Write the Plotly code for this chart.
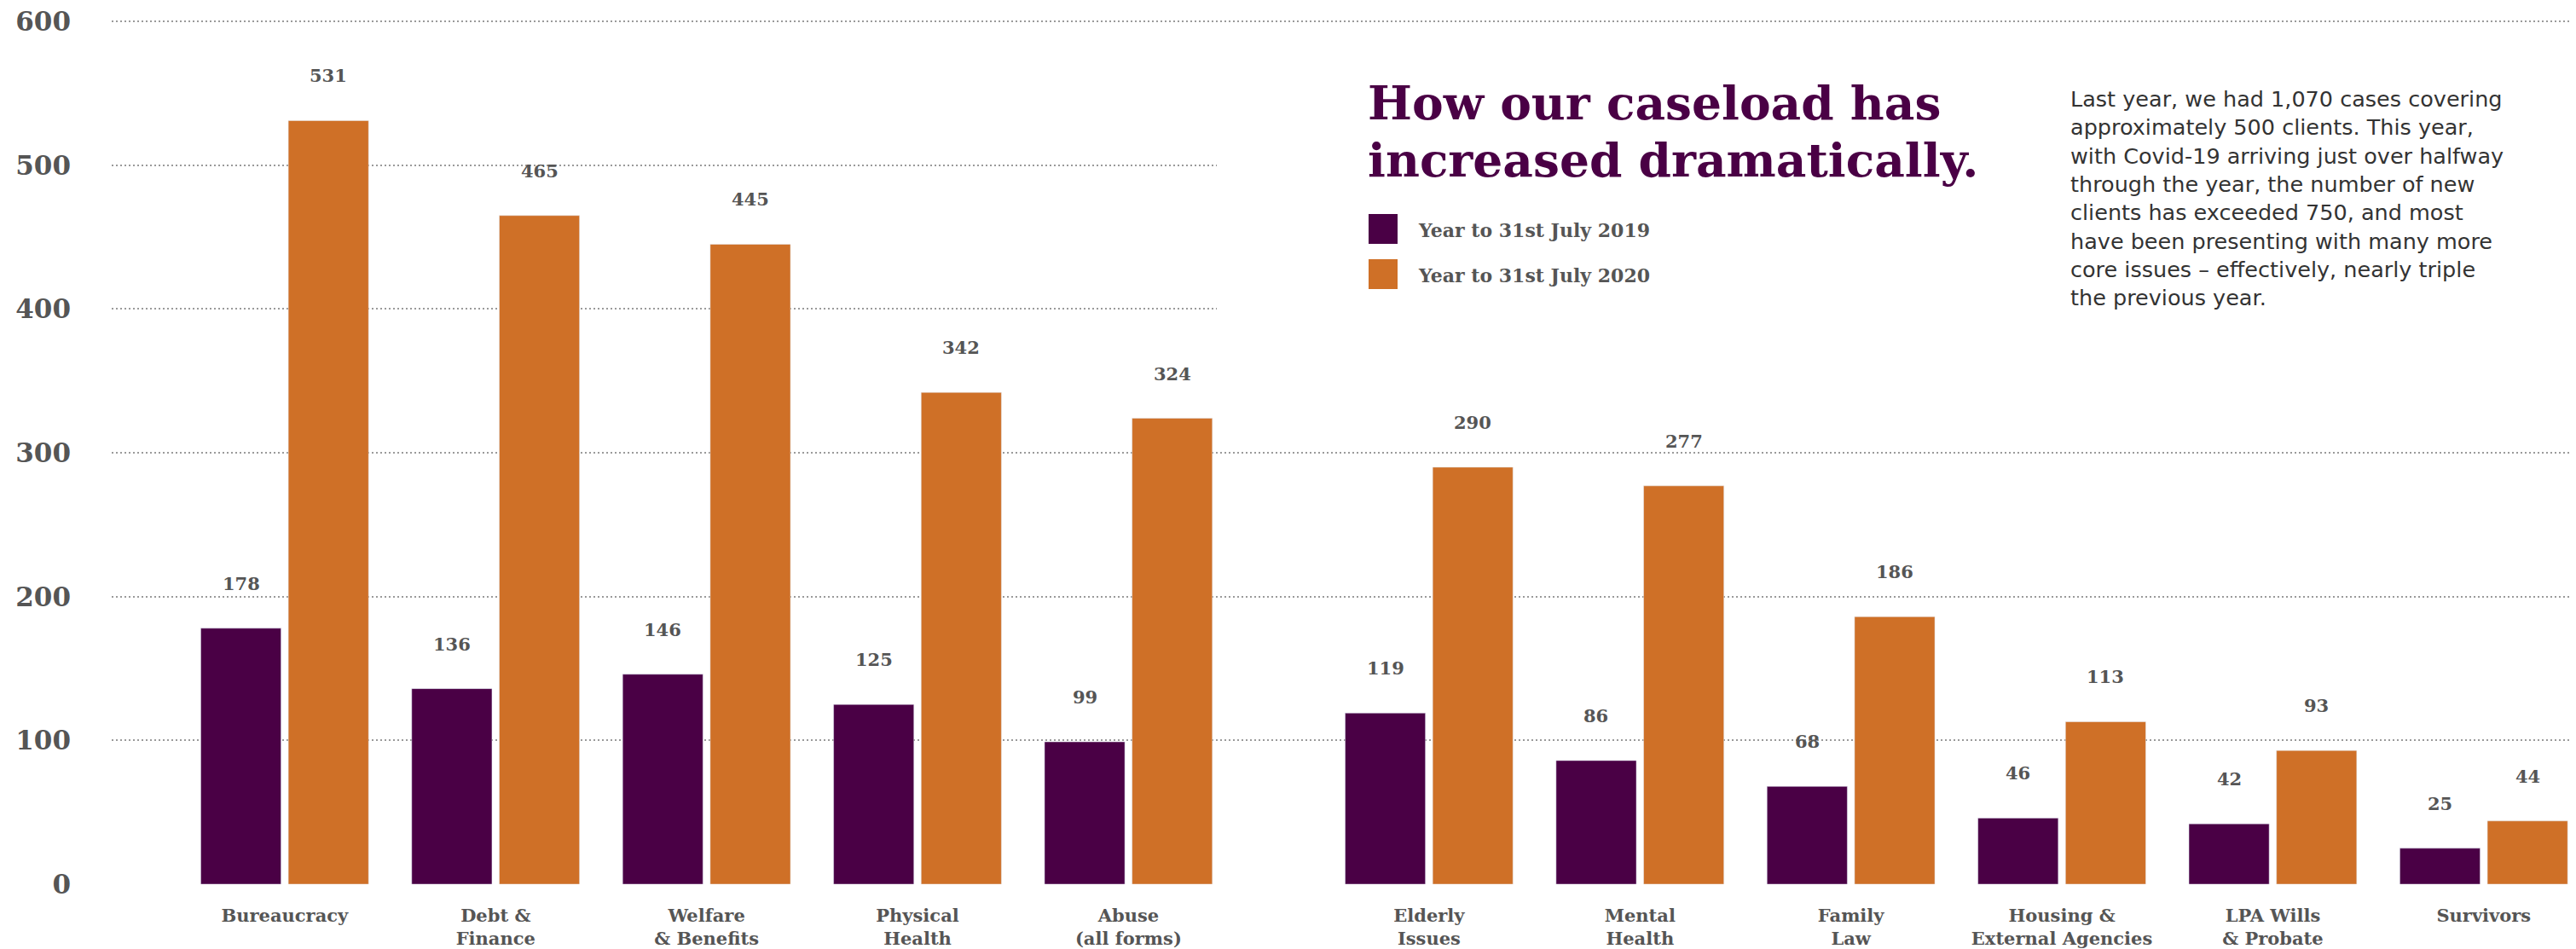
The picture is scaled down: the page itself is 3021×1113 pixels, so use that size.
import plotly.graph_objects as go

# ---------------- data ----------------
categories = [
    "Bureaucracy", "Debt &<br>Finance", "Welfare<br>& Benefits", "Physical<br>Health",
    "Abuse<br>(all forms)", "Elderly<br>Issues", "Mental<br>Health", "Family<br>Law",
    "Housing &<br>External Agencies", "LPA Wills<br>& Probate", "Survivors",
]
cases_2019 = [178, 136, 146, 125, 99, 119, 86, 68, 46, 42, 25]
cases_2020 = [531, 465, 445, 342, 324, 290, 277, 186, 113, 93, 44]
series_names = ["Year to 31st July 2019", "Year to 31st July 2020"]
y_ticks = [0, 100, 200, 300, 400, 500, 600]

title_lines = ["How our caseload has", "increased dramatically."]
paragraph_lines = [
    "Last year, we had 1,070 cases covering",
    "approximately 500 clients. This year,",
    "with Covid-19 arriving just over halfway",
    "through the year, the number of new",
    "clients has exceeded 750, and most",
    "have been presenting with many more",
    "core issues – effectively, nearly triple",
    "the previous year.",
]

# ---------------- style ----------------
PURPLE = "#4a0045"
ORANGE = "#cf7027"
GREY_TXT = "#555555"
SERIF = "DejaVu Serif"

W, H = 3021, 1113
Y_MAX = 603
PX_PER_UNIT = (1037 - 25) / 600
PLOT_L, PLOT_R, PLOT_B = 131, 3013, 1037
PLOT_T = PLOT_B - Y_MAX * PX_PER_UNIT
ML, MR = PLOT_L, W - PLOT_R
MT, MB = PLOT_T, H - PLOT_B
BREAK_AT = 5
BREAK_EXTRA = 0.425
BARGAP = 0.17
BARGROUPGAP = 0.083

positions = [i + (BREAK_EXTRA if i >= BREAK_AT else 0) for i in range(len(categories))]
offset = (1 - BARGAP) / 4

def px_x(q):
    return (q - PLOT_L) / (PLOT_R - PLOT_L)

def px_y(p):
    return (PLOT_B - p) / (PLOT_B - PLOT_T)

fig = go.Figure()
fig.add_bar(x=positions, y=cases_2019, name=series_names[0], marker_color=PURPLE)
fig.add_bar(x=positions, y=cases_2020, name=series_names[1], marker_color=ORANGE)

annotations = []
for series, sign in ((cases_2019, -1), (cases_2020, 1)):
    for xp, v in zip(positions, series):
        annotations.append(dict(
            x=xp + sign * offset, y=v, xref="x", yref="y", text=str(v),
            showarrow=False, yanchor="bottom", yshift=38,
            font=dict(family=SERIF, size=21, color=GREY_TXT, weight="bold"),
        ))

# title
for line, cy in zip(title_lines, (120, 187)):
    annotations.append(dict(
        x=px_x(1602), y=px_y(cy), xref="paper", yref="paper", text=f"<b>{line}</b>",
        showarrow=False, xanchor="left", yanchor="middle",
        font=dict(family=SERIF, size=55, color=PURPLE),
    ))

shapes = []
# white panel masking gridlines behind the title block (drawn first)
shapes.append(dict(type="rect", xref="paper", yref="y", x0=px_x(1427), x1=1.02,
                   y0=330, y1=570, fillcolor="white", line_width=0, layer="above"))

# legend (custom squares + labels)
for name, color, cy in zip(series_names, (PURPLE, ORANGE), (268.5, 321.5)):
    shapes.append(dict(type="rect", xref="paper", yref="paper",
                       x0=px_x(1605), x1=px_x(1639), y0=px_y(cy + 17.5), y1=px_y(cy - 17.5),
                       fillcolor=color, line_width=0, layer="above"))
    annotations.append(dict(
        x=px_x(1661), y=px_y(cy + 1), xref="paper", yref="paper", text=name,
        showarrow=False, xanchor="left", yanchor="middle",
        font=dict(family=SERIF, size=22, color=GREY_TXT, weight="bold"),
    ))

# paragraph
for k, line in enumerate(paragraph_lines):
    annotations.append(dict(
        x=px_x(2426), y=px_y(116 + k * 33.3), xref="paper", yref="paper", text=line,
        showarrow=False, xanchor="left", yanchor="middle", align="left",
        font=dict(family="DejaVu Sans", size=25.5, color="#333333"),
    ))

fig.update_layout(
    width=W, height=H,
    margin=dict(l=ML, r=MR, t=MT, b=MB, autoexpand=False),
    paper_bgcolor="white", plot_bgcolor="white",
    barmode="group", bargap=BARGAP, bargroupgap=BARGROUPGAP,
    showlegend=False,
    annotations=annotations, shapes=shapes,
    xaxis=dict(
        range=[-0.82, positions[-1] + 0.405],
        tickmode="array", tickvals=positions, ticktext=categories,
        showgrid=False, zeroline=False, showline=False, ticks="",
        tickfont=dict(family=SERIF, size=21, color=GREY_TXT, weight="bold"),
        ticklabelstandoff=22, automargin=False,
    ),
    yaxis=dict(
        range=[0, Y_MAX], tickmode="array", tickvals=y_ticks,
        showgrid=True, gridcolor="#9a9a9a", gridwidth=2, griddash="2px,3px",
        zeroline=False, showline=False, ticks="",
        tickfont=dict(family=SERIF, size=31, color=GREY_TXT, weight="bold"),
        ticklabelstandoff=47, automargin=False,
    ),
)

# remove the default page margin so the figure fills the window exactly
fig.write_html("out.html", config={"displayModeBar": False},
               post_script="document.body.style.margin='0';")
